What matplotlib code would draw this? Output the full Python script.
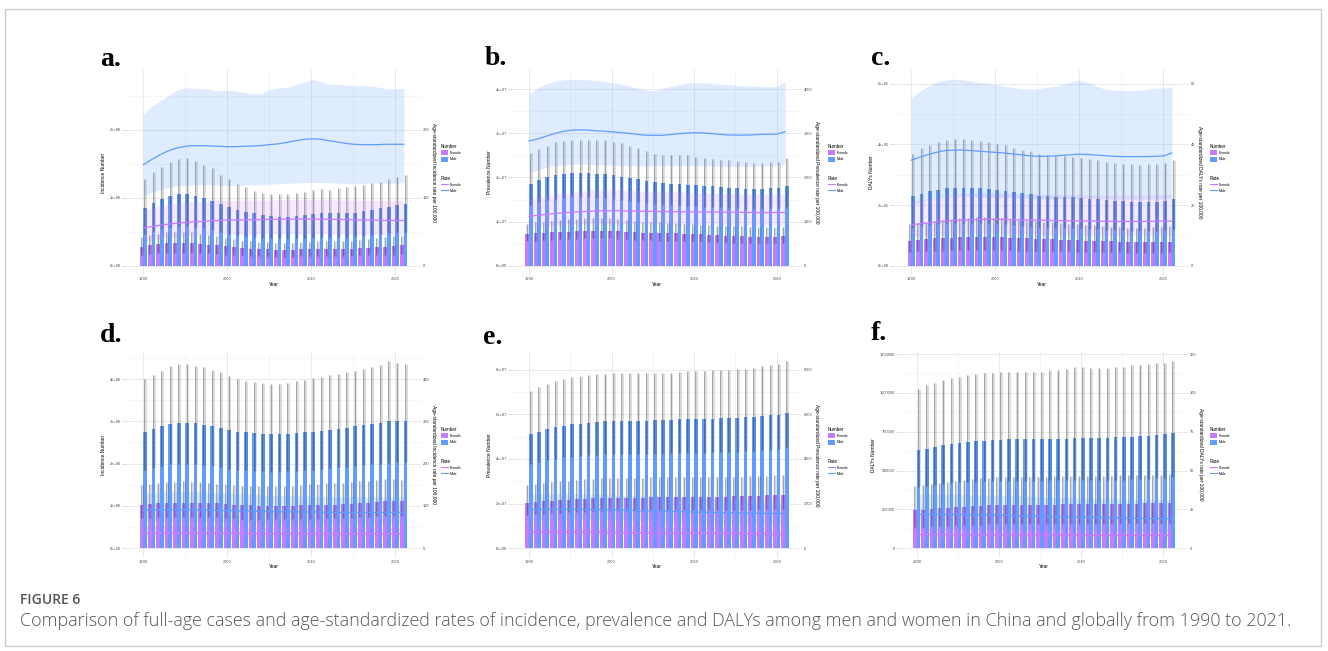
import matplotlib
matplotlib.use('Agg')
import matplotlib.pyplot as plt
import numpy as np
from matplotlib.patches import Patch, Rectangle
from matplotlib.lines import Line2D
from matplotlib.ticker import MultipleLocator, FuncFormatter

plt.rcParams['font.family'] = ['Liberation Sans', 'DejaVu Sans']

years = np.arange(1990, 2022)

# ---------------- a. China incidence (numbers in millions) ----------------
a_num_f = np.array([0.28, 0.30, 0.32, 0.33, 0.34, 0.34, 0.33, 0.32, 0.31, 0.30, 0.29, 0.28, 0.26, 0.25, 0.24, 0.24,
                    0.23, 0.23, 0.23, 0.24, 0.24, 0.24, 0.25, 0.25, 0.25, 0.25, 0.26, 0.26, 0.27, 0.28, 0.29, 0.30]) * 1e6
a_num_f_lo = np.array([0.16, 0.17, 0.18, 0.19, 0.19, 0.19, 0.19, 0.18, 0.18, 0.17, 0.16, 0.16, 0.15, 0.14, 0.14, 0.14,
                       0.13, 0.13, 0.13, 0.14, 0.14, 0.14, 0.14, 0.14, 0.14, 0.14, 0.15, 0.15, 0.15, 0.16, 0.16, 0.17]) * 1e6
a_num_f_hi = np.array([0.42, 0.45, 0.47, 0.49, 0.50, 0.50, 0.49, 0.47, 0.45, 0.43, 0.41, 0.39, 0.37, 0.36, 0.35, 0.35,
                       0.34, 0.34, 0.34, 0.35, 0.35, 0.36, 0.36, 0.36, 0.36, 0.37, 0.38, 0.39, 0.40, 0.42, 0.43, 0.44]) * 1e6
a_num_m = np.array([0.85, 0.92, 0.98, 1.03, 1.06, 1.06, 1.03, 1.00, 0.95, 0.91, 0.86, 0.82, 0.79, 0.77, 0.75, 0.73,
                    0.72, 0.72, 0.73, 0.75, 0.76, 0.77, 0.77, 0.77, 0.77, 0.78, 0.80, 0.82, 0.85, 0.87, 0.89, 0.91]) * 1e6
a_num_m_lo = np.array([0.47, 0.51, 0.54, 0.57, 0.58, 0.58, 0.57, 0.55, 0.52, 0.50, 0.47, 0.45, 0.43, 0.42, 0.41, 0.40,
                       0.40, 0.40, 0.40, 0.41, 0.42, 0.42, 0.42, 0.42, 0.42, 0.43, 0.44, 0.45, 0.47, 0.48, 0.49, 0.50]) * 1e6
a_num_m_hi = np.array([1.27, 1.38, 1.45, 1.52, 1.57, 1.58, 1.54, 1.48, 1.43, 1.33, 1.27, 1.20, 1.15, 1.10, 1.07, 1.06,
                       1.05, 1.05, 1.07, 1.08, 1.12, 1.13, 1.12, 1.14, 1.15, 1.17, 1.19, 1.21, 1.23, 1.27, 1.31, 1.34]) * 1e6
a_rate_f = [55.5, 57.5, 59.5, 61, 62.5, 63.5, 64.5, 65, 66, 66.5, 67, 67.2, 67.4, 67.6, 67.8, 68,
            68.2, 68.3, 68.4, 68.5, 68.5, 68.4, 68.2, 68, 67.8, 67.5, 67.3, 67, 66.8, 66.6, 66.5, 66.5]
a_rate_f_lo = [36, 38, 40, 42, 43, 44, 45, 45, 45.5, 45.5, 46, 46, 46, 46, 46, 46.5,
               46.5, 46.5, 46.5, 46.5, 46.5, 46.5, 46.5, 46, 46, 46, 46, 46, 45.5, 45.5, 45.5, 45.5]
a_rate_f_hi = [82, 85, 88, 90, 92, 93, 94, 95, 95.5, 96, 96, 96, 96.5, 96.5, 96.5, 96.5,
               97, 97, 97, 97, 97, 97, 97, 96.5, 96.5, 96.5, 96, 96, 96, 96, 96, 96]
a_rate_m = [148.5, 156, 163, 169, 173, 175.5, 176.5, 176.5, 176, 175.5, 175, 175, 175.5, 176, 176.5, 178,
            179, 181, 183.5, 185.5, 186.5, 186, 184, 182, 180, 178.5, 178, 178, 178, 178.5, 178.5, 178.5]
a_rate_m_lo = [102, 108, 112, 115, 117, 118.5, 119, 119, 119, 118.5, 118, 118, 118.5, 119, 119, 120,
               120.5, 121, 121.5, 122, 122.5, 122.5, 122, 121.5, 121, 121, 121, 121.5, 121.5, 121.5, 121.5, 122]
a_rate_m_hi = [222, 234.5, 242, 250, 258, 261.5, 261, 260.5, 259, 256.5, 258, 256.5, 255, 253, 253, 259,
               261, 262.5, 265, 269, 274, 271.5, 266.5, 267, 265.5, 265, 265, 264, 262.5, 260, 260, 260.5]

# ---------------- b. China prevalence (numbers in 1e7) ----------------
b_num_f = np.array([0.71, 0.73, 0.74, 0.76, 0.77, 0.77, 0.78, 0.79, 0.79, 0.79, 0.79, 0.78, 0.77, 0.76, 0.75, 0.74,
                    0.74, 0.73, 0.73, 0.72, 0.71, 0.71, 0.70, 0.69, 0.68, 0.67, 0.67, 0.66, 0.66, 0.66, 0.66, 0.67]) * 1e7
b_num_f_lo = np.array([0.55, 0.57, 0.58, 0.59, 0.60, 0.60, 0.61, 0.62, 0.62, 0.62, 0.62, 0.61, 0.60, 0.59, 0.58, 0.58,
                       0.57, 0.57, 0.57, 0.56, 0.55, 0.55, 0.54, 0.54, 0.53, 0.52, 0.52, 0.51, 0.51, 0.51, 0.51, 0.52]) * 1e7
b_num_f_hi = np.array([0.95, 0.98, 1.00, 1.02, 1.04, 1.05, 1.06, 1.07, 1.08, 1.08, 1.07, 1.06, 1.04, 1.02, 1.00, 0.99,
                       0.98, 0.97, 0.96, 0.95, 0.94, 0.93, 0.92, 0.91, 0.90, 0.89, 0.89, 0.88, 0.88, 0.88, 0.88, 0.88]) * 1e7
b_num_m = np.array([1.86, 1.94, 2.00, 2.05, 2.08, 2.11, 2.11, 2.10, 2.08, 2.07, 2.05, 2.02, 1.99, 1.96, 1.92, 1.89,
                    1.88, 1.86, 1.86, 1.84, 1.83, 1.81, 1.80, 1.78, 1.77, 1.75, 1.74, 1.74, 1.74, 1.75, 1.76, 1.81]) * 1e7
b_num_m_lo = np.array([1.38, 1.44, 1.48, 1.52, 1.54, 1.56, 1.56, 1.55, 1.54, 1.53, 1.52, 1.50, 1.47, 1.45, 1.42, 1.40,
                       1.39, 1.38, 1.38, 1.36, 1.35, 1.34, 1.33, 1.32, 1.31, 1.30, 1.29, 1.29, 1.29, 1.30, 1.30, 1.34]) * 1e7
b_num_m_hi = np.array([2.56, 2.65, 2.72, 2.80, 2.83, 2.84, 2.86, 2.86, 2.85, 2.84, 2.81, 2.77, 2.72, 2.66, 2.60, 2.54,
                       2.52, 2.52, 2.52, 2.50, 2.47, 2.45, 2.42, 2.39, 2.39, 2.37, 2.35, 2.33, 2.33, 2.34, 2.36, 2.45]) * 1e7
b_rate_f = [1120, 1140, 1160, 1180, 1195, 1210, 1220, 1230, 1240, 1245, 1245, 1245, 1240, 1235, 1232, 1230,
            1228, 1226, 1224, 1222, 1220, 1218, 1216, 1214, 1212, 1210, 1208, 1206, 1205, 1205, 1205, 1205]
b_rate_f_lo = [860, 880, 900, 915, 925, 935, 940, 945, 950, 950, 950, 948, 945, 942, 940, 938,
               936, 934, 932, 930, 928, 926, 924, 922, 920, 918, 916, 914, 912, 910, 910, 910]
b_rate_f_hi = [1500, 1540, 1580, 1610, 1640, 1660, 1680, 1700, 1710, 1720, 1720, 1715, 1710, 1700, 1690, 1685,
               1680, 1675, 1670, 1665, 1660, 1655, 1650, 1645, 1640, 1635, 1630, 1625, 1622, 1620, 1620, 1620]
b_rate_m = [2826, 2870, 2930, 2990, 3040, 3070, 3080, 3075, 3060, 3050, 3035, 3020, 3000, 2980, 2960, 2955,
            2955, 2970, 2990, 3005, 3015, 3010, 2995, 2980, 2965, 2960, 2960, 2965, 2975, 2980, 2980, 3040]
b_rate_m_lo = [2090, 2170, 2220, 2260, 2280, 2300, 2300, 2300, 2290, 2290, 2280, 2270, 2265, 2260, 2260, 2260,
               2260, 2265, 2270, 2270, 2270, 2265, 2260, 2255, 2250, 2250, 2250, 2255, 2255, 2260, 2260, 2300]
b_rate_m_hi = [3890, 4020, 4120, 4180, 4210, 4225, 4225, 4215, 4200, 4180, 4150, 4120, 4080, 4030, 3990, 3960,
               4010, 4060, 4100, 4130, 4150, 4145, 4130, 4115, 4100, 4090, 4080, 4070, 4060, 4055, 4060, 4170]

# ---------------- c. China DALYs (numbers in 1e5) ----------------
c_num_f = np.array([0.83, 0.85, 0.88, 0.90, 0.91, 0.93, 0.94, 0.95, 0.96, 0.96, 0.95, 0.94, 0.93, 0.91, 0.90, 0.88,
                    0.87, 0.87, 0.86, 0.85, 0.84, 0.83, 0.82, 0.81, 0.80, 0.79, 0.78, 0.78, 0.78, 0.78, 0.78, 0.79]) * 1e5
c_num_f_lo = np.array([0.46, 0.47, 0.49, 0.50, 0.50, 0.51, 0.52, 0.52, 0.53, 0.53, 0.52, 0.52, 0.51, 0.50, 0.50, 0.49,
                       0.48, 0.48, 0.47, 0.47, 0.46, 0.46, 0.45, 0.45, 0.44, 0.44, 0.43, 0.43, 0.43, 0.43, 0.43, 0.44]) * 1e5
c_num_f_hi = np.array([1.38, 1.41, 1.45, 1.48, 1.51, 1.54, 1.56, 1.58, 1.60, 1.60, 1.58, 1.56, 1.54, 1.51, 1.49, 1.46,
                       1.44, 1.43, 1.41, 1.39, 1.37, 1.35, 1.33, 1.31, 1.29, 1.27, 1.26, 1.26, 1.26, 1.27, 1.28, 1.30]) * 1e5
c_num_m = np.array([2.29, 2.37, 2.45, 2.51, 2.56, 2.58, 2.58, 2.57, 2.55, 2.52, 2.51, 2.47, 2.43, 2.39, 2.35, 2.31,
                    2.29, 2.28, 2.28, 2.26, 2.23, 2.21, 2.19, 2.16, 2.15, 2.12, 2.11, 2.11, 2.11, 2.11, 2.14, 2.20]) * 1e5
c_num_m_lo = np.array([1.26, 1.30, 1.35, 1.38, 1.41, 1.42, 1.42, 1.41, 1.40, 1.39, 1.38, 1.36, 1.34, 1.31, 1.29, 1.27,
                       1.26, 1.25, 1.25, 1.24, 1.23, 1.22, 1.20, 1.19, 1.18, 1.17, 1.16, 1.16, 1.16, 1.16, 1.18, 1.21]) * 1e5
c_num_m_hi = np.array([3.69, 3.87, 3.99, 4.08, 4.14, 4.17, 4.17, 4.14, 4.13, 4.08, 4.03, 3.97, 3.89, 3.83, 3.77, 3.70,
                       3.64, 3.61, 3.61, 3.58, 3.56, 3.52, 3.48, 3.43, 3.39, 3.36, 3.34, 3.33, 3.35, 3.37, 3.39, 3.50]) * 1e5
c_rate_f = [13.5, 13.8, 14.1, 14.4, 14.7, 14.9, 15.05, 15.15, 15.25, 15.3, 15.3, 15.25, 15.2, 15.1, 15.05, 15.0,
            14.95, 14.9, 14.85, 14.8, 14.8, 14.75, 14.7, 14.65, 14.6, 14.6, 14.6, 14.6, 14.6, 14.65, 14.7, 14.7]
c_rate_f_lo = [9.6, 9.8, 10.0, 10.2, 10.4, 10.5, 10.6, 10.7, 10.7, 10.7, 10.7, 10.6, 10.6, 10.5, 10.5, 10.4,
               10.4, 10.3, 10.3, 10.3, 10.2, 10.2, 10.2, 10.1, 10.1, 10.1, 10.1, 10.1, 10.1, 10.1, 10.1, 10.1]
c_rate_f_hi = [21.0, 21.6, 22.2, 22.7, 23.1, 23.4, 23.6, 23.8, 23.9, 24.0, 24.0, 23.9, 23.8, 23.7, 23.6, 23.5,
               23.5, 23.4, 23.4, 23.4, 23.4, 23.3, 23.3, 23.2, 23.2, 23.2, 23.2, 23.2, 23.3, 23.4, 23.5, 23.6]
c_rate_m = [34.8, 35.8, 36.7, 37.4, 38.0, 38.1, 38.15, 38.0, 37.8, 37.6, 37.4, 37.2, 36.9, 36.6, 36.3, 36.1,
            36.1, 36.2, 36.4, 36.6, 36.8, 36.7, 36.5, 36.3, 36.1, 36.0, 36.0, 36.0, 36.0, 36.1, 36.2, 37.2]
c_rate_m_lo = [20.0, 21.0, 21.8, 22.4, 22.8, 23.0, 23.0, 22.9, 22.8, 22.7, 22.6, 22.5, 22.4, 22.3, 22.2, 22.1,
               22.1, 22.1, 22.2, 22.2, 22.3, 22.3, 22.2, 22.1, 22.0, 22.0, 22.0, 22.0, 22.0, 22.0, 22.0, 22.3]
c_rate_m_hi = [55.5, 57.5, 59.3, 60.5, 61.2, 61.5, 61.4, 61.0, 60.5, 60.2, 59.8, 59.3, 58.8, 58.4, 58.3, 58.3,
               58.8, 59.2, 59.8, 60.6, 61.3, 60.5, 59.3, 58.3, 57.9, 57.8, 57.8, 57.8, 58.2, 58.6, 58.6, 59.0]

# ---------------- d. Global incidence (numbers in millions) ----------------
d_num_f = np.array([1.03, 1.04, 1.06, 1.07, 1.08, 1.08, 1.08, 1.07, 1.07, 1.06, 1.04, 1.03, 1.02, 1.01, 1.00, 0.99,
                    0.99, 1.00, 1.00, 1.01, 1.01, 1.02, 1.03, 1.03, 1.04, 1.05, 1.07, 1.08, 1.10, 1.11, 1.11, 1.12]) * 1e6
d_num_f_lo = np.array([0.71, 0.72, 0.73, 0.74, 0.74, 0.74, 0.74, 0.74, 0.73, 0.73, 0.72, 0.71, 0.70, 0.70, 0.69, 0.68,
                       0.68, 0.69, 0.69, 0.70, 0.70, 0.70, 0.71, 0.71, 0.72, 0.72, 0.74, 0.74, 0.76, 0.77, 0.77, 0.77]) * 1e6
d_num_f_hi = np.array([1.50, 1.52, 1.54, 1.56, 1.57, 1.58, 1.57, 1.56, 1.54, 1.52, 1.51, 1.49, 1.48, 1.47, 1.46, 1.46,
                       1.46, 1.47, 1.48, 1.50, 1.51, 1.52, 1.53, 1.54, 1.55, 1.56, 1.58, 1.60, 1.62, 1.63, 1.63, 1.62]) * 1e6
d_num_m = np.array([2.74, 2.82, 2.90, 2.94, 2.97, 2.97, 2.96, 2.92, 2.88, 2.84, 2.79, 2.76, 2.74, 2.72, 2.71, 2.69,
                    2.69, 2.70, 2.72, 2.75, 2.76, 2.78, 2.80, 2.83, 2.85, 2.88, 2.91, 2.94, 2.97, 3.00, 3.01, 3.02]) * 1e6
d_num_m_lo = np.array([1.85, 1.90, 1.95, 1.98, 2.00, 2.00, 1.99, 1.97, 1.94, 1.91, 1.88, 1.86, 1.85, 1.83, 1.82, 1.81,
                       1.81, 1.82, 1.83, 1.85, 1.86, 1.87, 1.89, 1.91, 1.92, 1.94, 1.96, 1.98, 2.00, 2.02, 2.03, 2.05]) * 1e6
d_num_m_hi = np.array([4.00, 4.10, 4.20, 4.30, 4.35, 4.35, 4.32, 4.28, 4.22, 4.16, 4.08, 4.00, 3.95, 3.94, 3.90, 3.88,
                       3.89, 3.90, 3.95, 3.97, 4.02, 4.05, 4.09, 4.13, 4.16, 4.20, 4.24, 4.28, 4.34, 4.42, 4.39, 4.36]) * 1e6
d_rate_f = [35.5, 35.5, 35.5, 35.5, 35.4, 35.3, 35.2, 35.1, 35.0, 34.9, 34.8, 34.7, 34.6, 34.5, 34.4, 34.3,
            34.3, 34.2, 34.2, 34.1, 34.1, 34.1, 34.0, 34.0, 34.0, 34.0, 34.0, 34.0, 34.0, 34.0, 34.0, 34.0]
d_rate_f_lo = [24.0, 24.0, 24.0, 24.0, 23.9, 23.9, 23.8, 23.8, 23.7, 23.6, 23.6, 23.5, 23.4, 23.4, 23.3, 23.2,
               23.2, 23.1, 23.1, 23.0, 23.0, 23.0, 22.9, 22.9, 22.9, 22.9, 22.9, 22.9, 22.9, 22.9, 22.9, 22.9]
d_rate_f_hi = [50.0, 50.0, 50.0, 50.0, 49.9, 49.8, 49.7, 49.5, 49.4, 49.2, 49.0, 48.9, 48.8, 48.6, 48.5, 48.4,
               48.3, 48.2, 48.2, 48.1, 48.1, 48.0, 48.0, 48.0, 47.9, 47.9, 47.9, 47.9, 47.9, 48.0, 48.0, 48.0]
d_rate_m = [90.7, 90.9, 91.0, 91.1, 91.1, 91.0, 90.7, 90.3, 89.9, 89.5, 89.0, 88.5, 88.0, 87.5, 87.0, 86.5,
            86.3, 86.1, 85.9, 85.7, 85.5, 85.3, 85.1, 84.9, 84.7, 84.5, 84.5, 84.5, 84.6, 84.7, 84.8, 85.0]
d_rate_m_lo = [63, 63.5, 64, 64, 64, 63.8, 63.5, 63.2, 62.8, 62.4, 62, 61.6, 61.2, 60.8, 60.4, 60,
               59.8, 59.6, 59.4, 59.2, 59, 58.8, 58.6, 58.4, 58.2, 58, 58, 58, 58, 58, 58, 58]
d_rate_m_hi = [130, 131, 132, 133, 133.5, 134, 133.5, 133, 132, 131, 130, 129, 128, 127, 126, 125,
               124.5, 124, 123.5, 123, 122.8, 122.6, 122.4, 122.2, 122, 121.8, 121.6, 121.4, 121.2, 121, 120.5, 120]

# ---------------- e. Global prevalence (numbers in 1e7) ----------------
e_num_f = np.array([2.03, 2.06, 2.10, 2.13, 2.16, 2.16, 2.19, 2.22, 2.24, 2.25, 2.27, 2.27, 2.27, 2.27, 2.27, 2.28,
                    2.28, 2.28, 2.30, 2.30, 2.30, 2.30, 2.31, 2.31, 2.31, 2.33, 2.33, 2.34, 2.36, 2.37, 2.37, 2.39]) * 1e7
e_num_f_lo = np.array([1.50, 1.52, 1.55, 1.57, 1.59, 1.60, 1.62, 1.64, 1.65, 1.66, 1.68, 1.68, 1.68, 1.68, 1.68, 1.69,
                       1.69, 1.69, 1.70, 1.70, 1.70, 1.70, 1.71, 1.71, 1.71, 1.72, 1.72, 1.73, 1.74, 1.75, 1.75, 1.77]) * 1e7
e_num_f_hi = np.array([2.82, 2.87, 2.91, 2.97, 3.00, 3.01, 3.05, 3.08, 3.11, 3.14, 3.14, 3.15, 3.15, 3.16, 3.16, 3.17,
                       3.17, 3.17, 3.17, 3.17, 3.17, 3.18, 3.18, 3.19, 3.19, 3.20, 3.21, 3.22, 3.23, 3.25, 3.27, 3.30]) * 1e7
e_num_m = np.array([5.12, 5.23, 5.33, 5.42, 5.50, 5.56, 5.59, 5.63, 5.66, 5.69, 5.71, 5.72, 5.72, 5.72, 5.72, 5.74,
                    5.74, 5.75, 5.78, 5.80, 5.80, 5.80, 5.81, 5.83, 5.84, 5.86, 5.87, 5.90, 5.93, 5.96, 5.99, 6.08]) * 1e7
e_num_m_lo = np.array([3.78, 3.86, 3.94, 4.01, 4.07, 4.11, 4.13, 4.16, 4.19, 4.21, 4.22, 4.23, 4.23, 4.23, 4.23, 4.24,
                       4.24, 4.25, 4.28, 4.29, 4.29, 4.29, 4.30, 4.31, 4.32, 4.33, 4.34, 4.37, 4.39, 4.41, 4.43, 4.55]) * 1e7
e_num_m_hi = np.array([7.07, 7.22, 7.36, 7.49, 7.60, 7.67, 7.73, 7.76, 7.81, 7.82, 7.85, 7.87, 7.87, 7.87, 7.85, 7.85,
                       7.85, 7.87, 7.91, 7.94, 7.94, 7.96, 7.99, 8.00, 8.00, 8.03, 8.05, 8.09, 8.15, 8.21, 8.26, 8.38]) * 1e7
e_rate_f = [720, 720, 720, 718, 716, 714, 712, 710, 707, 704, 701, 698, 695, 692, 689, 686,
            683, 680, 677, 674, 671, 668, 665, 662, 659, 656, 653, 651, 649, 647, 646, 645]
e_rate_f_lo = [500, 500, 500, 499, 497, 496, 494, 493, 491, 489, 487, 485, 483, 481, 479, 477,
               475, 473, 471, 469, 467, 465, 463, 461, 459, 457, 455, 453, 452, 451, 450, 450]
e_rate_f_hi = [980, 980, 980, 977, 974, 971, 968, 965, 961, 957, 953, 949, 945, 941, 937, 933,
               929, 925, 921, 917, 913, 909, 905, 901, 897, 893, 889, 886, 884, 882, 880, 878]
e_rate_m = [1730, 1735, 1740, 1745, 1750, 1750, 1745, 1740, 1735, 1728, 1720, 1710, 1700, 1690, 1680, 1670,
            1660, 1650, 1640, 1630, 1620, 1612, 1604, 1596, 1588, 1580, 1574, 1568, 1562, 1557, 1553, 1550]
e_rate_m_lo = [1280, 1282, 1284, 1286, 1288, 1288, 1285, 1280, 1274, 1266, 1258, 1248, 1238, 1228, 1218, 1208,
               1198, 1188, 1178, 1168, 1158, 1148, 1140, 1132, 1124, 1116, 1108, 1100, 1092, 1085, 1078, 1070]
e_rate_m_hi = [2420, 2425, 2430, 2435, 2440, 2440, 2432, 2424, 2414, 2402, 2390, 2376, 2362, 2348, 2334, 2320,
               2306, 2292, 2278, 2264, 2250, 2236, 2222, 2208, 2194, 2180, 2160, 2140, 2120, 2100, 2085, 2070]

# ---------------- f. Global DALYs (numbers in thousands) ----------------
f_num_f = np.array([243, 247, 252, 256, 260, 262, 267, 271, 273, 275, 278, 278, 278, 278, 278, 278,
                    280, 280, 282, 282, 282, 282, 284, 284, 284, 286, 286, 286, 288, 288, 288, 290]) * 1e3
f_num_f_lo = np.array([136, 138, 141, 143, 145, 146, 149, 151, 152, 153, 155, 155, 155, 155, 155, 155,
                       156, 156, 157, 157, 157, 157, 158, 158, 158, 159, 159, 159, 160, 160, 160, 161]) * 1e3
f_num_f_hi = np.array([402, 409, 415, 420, 426, 432, 438, 447, 451, 455, 458, 458, 458, 458, 458, 458,
                       460, 462, 463, 464, 465, 465, 466, 466, 467, 469, 470, 470, 471, 472, 473, 475]) * 1e3
f_num_m = np.array([630, 641, 654, 663, 673, 680, 684, 688, 693, 695, 699, 701, 701, 701, 701, 701,
                    704, 704, 706, 708, 710, 710, 712, 712, 714, 716, 719, 721, 725, 731, 734, 744]) * 1e3
f_num_m_lo = np.array([394, 400, 408, 413, 419, 423, 425, 427, 430, 431, 433, 434, 434, 434, 434, 434,
                       436, 436, 437, 438, 439, 439, 440, 440, 441, 442, 444, 445, 447, 451, 453, 459]) * 1e3
f_num_m_hi = np.array([1028, 1048, 1065, 1080, 1093, 1099, 1112, 1119, 1125, 1127, 1132, 1132, 1134, 1132, 1132, 1132,
                       1145, 1147, 1155, 1164, 1164, 1160, 1160, 1160, 1164, 1168, 1177, 1179, 1183, 1190, 1194, 1203]) * 1e3
f_rate_f = [8.8, 8.8, 8.8, 8.8, 8.8, 8.7, 8.7, 8.7, 8.7, 8.6, 8.6, 8.6, 8.6, 8.5, 8.5, 8.5,
            8.5, 8.4, 8.4, 8.4, 8.4, 8.4, 8.3, 8.3, 8.3, 8.3, 8.3, 8.2, 8.2, 8.2, 8.2, 8.2]
f_rate_f_lo = [5.8, 5.8, 5.8, 5.8, 5.8, 5.7, 5.7, 5.7, 5.7, 5.7, 5.6, 5.6, 5.6, 5.6, 5.5, 5.5,
               5.5, 5.5, 5.5, 5.4, 5.4, 5.4, 5.4, 5.4, 5.4, 5.3, 5.3, 5.3, 5.3, 5.3, 5.3, 5.3]
f_rate_f_hi = [12.6, 12.6, 12.6, 12.6, 12.6, 12.5, 12.5, 12.5, 12.4, 12.4, 12.3, 12.3, 12.3, 12.2, 12.2, 12.1,
               12.1, 12.1, 12.0, 12.0, 12.0, 11.9, 11.9, 11.9, 11.8, 11.8, 11.8, 11.7, 11.7, 11.7, 11.6, 11.6]
f_rate_m = [21.7, 21.7, 21.7, 21.7, 21.7, 21.7, 21.6, 21.5, 21.4, 21.3, 21.2, 21.1, 21.0, 20.8, 20.7, 20.5,
            20.4, 20.3, 20.2, 20.1, 20.0, 19.9, 19.8, 19.7, 19.5, 19.4, 19.3, 19.2, 19.1, 19.0, 18.95, 18.9]
f_rate_m_lo = [12.5, 12.5, 12.5, 12.5, 12.5, 12.5, 12.4, 12.4, 12.3, 12.2, 12.2, 12.1, 12.0, 11.9, 11.9, 11.8,
               11.7, 11.7, 11.6, 11.5, 11.5, 11.4, 11.4, 11.3, 11.3, 11.2, 11.2, 11.1, 11.1, 11.0, 11.0, 11.0]
f_rate_m_hi = [35.1, 35.0, 34.9, 34.8, 34.7, 34.6, 34.5, 34.4, 34.3, 34.1, 34.0, 33.8, 33.7, 33.5, 33.4, 33.2,
               33.1, 32.9, 32.8, 32.6, 32.5, 32.3, 32.2, 32.0, 31.9, 31.8, 31.7, 31.6, 31.5, 31.4, 31.3, 31.2]

caption = ("Comparison of full-age cases and age-standardized rates of incidence, prevalence and DALYs among "
           "men and women in China and globally from 1990 to 2021.")

# colours
purple = '#C77CFF'
blue = '#619CFF'
scale = 1e4   # secondary axis: rate = number / 1e4

W, H = 1328, 651
fig = plt.figure(figsize=(W / 100, H / 100), dpi=100)


def px_axes(l, r, t, b):
    return fig.add_axes([l / W, 1 - b / H, (r - l) / W, (b - t) / H])


def sci(v, pos):
    if v == 0:
        return '0e+00'
    return '%.0e' % v


def plain(v, pos):
    return '%d' % v


# letter, data, labels, tick step, formatter, box (l, r, t, b), legend (x, y), letter pos
panels = [
    ('a.', a_num_f, a_num_f_lo, a_num_f_hi, a_num_m, a_num_m_lo, a_num_m_hi,
     a_rate_f, a_rate_f_lo, a_rate_f_hi, a_rate_m, a_rate_m_lo, a_rate_m_hi,
     'Incidence', 1e6, sci, (126, 421, 70, 275), (441, 144), (100, 66)),
    ('b.', b_num_f, b_num_f_lo, b_num_f_hi, b_num_m, b_num_m_lo, b_num_m_hi,
     b_rate_f, b_rate_f_lo, b_rate_f_hi, b_rate_m, b_rate_m_lo, b_rate_m_hi,
     'Prevalence', 1e7, sci, (512, 802, 70, 275), (828, 144), (485, 65)),
    ('c.', c_num_f, c_num_f_lo, c_num_f_hi, c_num_m, c_num_m_lo, c_num_m_hi,
     c_rate_f, c_rate_f_lo, c_rate_f_hi, c_rate_m, c_rate_m_lo, c_rate_m_hi,
     'DALYs', 2e5, sci, (894, 1189, 70, 275), (1210, 144), (871, 65)),
    ('d.', d_num_f, d_num_f_lo, d_num_f_hi, d_num_m, d_num_m_lo, d_num_m_hi,
     d_rate_f, d_rate_f_lo, d_rate_f_hi, d_rate_m, d_rate_m_lo, d_rate_m_hi,
     'Incidence', 1e6, sci, (126, 421, 352, 557.5), (441, 427), (100, 342)),
    ('e.', e_num_f, e_num_f_lo, e_num_f_hi, e_num_m, e_num_m_lo, e_num_m_hi,
     e_rate_f, e_rate_f_lo, e_rate_f_hi, e_rate_m, e_rate_m_lo, e_rate_m_hi,
     'Prevalence', 2e7, sci, (512, 802, 352, 557.5), (828, 427), (483, 344)),
    ('f.', f_num_f, f_num_f_lo, f_num_f_hi, f_num_m, f_num_m_lo, f_num_m_hi,
     f_rate_f, f_rate_f_lo, f_rate_f_hi, f_rate_m, f_rate_m_lo, f_rate_m_hi,
     'DALYs', 2.5e5, plain, (900, 1188, 352, 557.5), (1210, 427), (871, 340)),
]

for (letter, nf, nf_lo, nf_hi, nm, nm_lo, nm_hi, rf, rf_lo, rf_hi, rm, rm_lo, rm_hi,
     measure, step, fmt, box, legpos, letpos) in panels:
    ax = px_axes(*box)
    ax2 = ax.twinx()
    l, r, t, b = box

    top = max(np.max(nf_hi), np.max(nm_hi), np.max(rm_hi) * scale, np.max(rf_hi) * scale)
    ylo, yhi = -0.05 * top, 1.05 * top
    ax.set_ylim(ylo, yhi)
    ax2.set_ylim(ylo / scale, yhi / scale)
    ax.set_xlim(1987.95, 2023.05)

    # bars with uncertainty intervals
    ax.bar(years - 0.22, nf, width=0.44, color=purple, zorder=2, linewidth=0)
    ax.bar(years + 0.22, nm, width=0.44, color=blue, zorder=2, linewidth=0)
    for xs, lo, hi in [(years - 0.22, nf_lo, nf_hi), (years + 0.22, nm_lo, nm_hi)]:
        ax.vlines(xs + 0.03, lo, hi, color='#222222', alpha=0.18, lw=1.9, zorder=3)
        ax.vlines(xs - 0.07, lo, hi, color='#222222', alpha=0.45, lw=0.45, zorder=3)

    # age-standardized rates
    ax2.fill_between(years, rf_lo, rf_hi, color=purple, alpha=0.17, lw=0, zorder=1)
    ax2.fill_between(years, rm_lo, rm_hi, color=blue, alpha=0.2, lw=0, zorder=1)
    ax2.plot(years, rf, color=purple, lw=0.9, zorder=2)
    ax2.plot(years, rm, color=blue, lw=0.9, zorder=2)

    # theme_minimal look
    ax.set_axisbelow(True)
    ax.xaxis.set_major_locator(MultipleLocator(10))
    ax.xaxis.set_minor_locator(MultipleLocator(5))
    ax.yaxis.set_major_locator(MultipleLocator(step))
    ax.yaxis.set_minor_locator(MultipleLocator(step / 2))
    ax2.yaxis.set_major_locator(MultipleLocator(step / scale))
    ax.yaxis.set_major_formatter(FuncFormatter(fmt))
    ax2.yaxis.set_major_formatter(FuncFormatter(lambda v, p: '%g' % v))
    ax.grid(which='major', color='#e6e6e6', lw=0.6)
    ax.grid(which='minor', color='#f2f2f2', lw=0.45)
    for a_ in (ax, ax2):
        for s in a_.spines.values():
            s.set_visible(False)
    ax.tick_params(axis='both', which='both', length=0, labelsize=2.9, labelcolor='#4d4d4d', pad=1.8)
    ax.tick_params(axis='y', which='major', length=2.8, color='#d0d0d0', width=0.5, pad=0.8)
    ax2.tick_params(axis='y', which='both', length=0, labelsize=2.9, labelcolor='#4d4d4d', pad=1.2)

    hgt = b - t
    ax.set_xlabel('Year', fontsize=3.5, va='center')
    ax.xaxis.set_label_coords(0.5, -9.5 / hgt)
    ax.set_ylabel(measure + ' Number', fontsize=3.5, labelpad=3)
    ax2.set_ylabel('Age-standardized ' + measure + ' rate per 100,000', fontsize=3.5,
                   rotation=-90, va='bottom', labelpad=1.5)

    # legends
    lx, ly = legpos
    h_num = [Patch(facecolor=purple, label='Female'), Patch(facecolor=blue, label='Male')]
    h_rate = [Line2D([], [], color=purple, lw=0.8, label='Female'),
              Line2D([], [], color=blue, lw=0.8, label='Male')]
    for handles, title, yy in [(h_num, 'Number', ly), (h_rate, 'Rate', ly + 32)]:
        fig.legend(handles=handles, title=title, loc='upper left',
                   bbox_to_anchor=(lx / W, 1 - yy / H), frameon=False,
                   fontsize=2.5, title_fontsize=3.3, handlelength=1.9, handleheight=1.9,
                   labelspacing=0.35, borderpad=0, borderaxespad=0, handletextpad=0.65,
                   alignment='left')

    fig.text(letpos[0] / W, 1 - letpos[1] / H, letter, fontsize=20, fontweight='bold',
             family=['Liberation Serif', 'DejaVu Serif'], va='baseline', ha='left')

# caption and frame
fig.text(20 / W, 1 - 600 / H, 'FIGURE 6', fontsize=10, color='#555555',
         family=['Open Sans', 'DejaVu Sans'], fontweight='semibold', va='center')
fig.text(20 / W, 1 - 621 / H, caption, fontsize=12.9, color='#555555',
         family=['Open Sans', 'DejaVu Sans'], fontweight='light', va='center')
fig.patches.append(Rectangle((5 / W, 1 - 646 / H), 1316 / W, 637 / H, transform=fig.transFigure,
                             fill=False, edgecolor='#cfcfcf', lw=1))

fig.savefig('out.png', dpi=100)
